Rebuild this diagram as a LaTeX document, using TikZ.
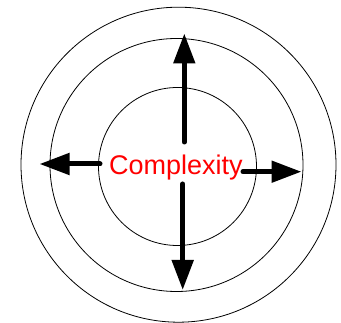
\documentclass[tikz,border=0pt]{standalone}
\usepackage{fontspec}
\setmainfont{Liberation Sans}
\usetikzlibrary{arrows.meta}
\begin{document}
\begin{tikzpicture}[x=1pt,y=-1pt,
  ring/.style={draw=black,line width=0.8pt},
  bigarrow/.style={line width=5pt,line cap=round,-{Triangle[length=30pt,width=21pt]}}]
\useasboundingbox (0,0) rectangle (341,323);
\draw[ring] (178.5,164.7) circle[radius=157.5];
\draw[ring] (176.5,165) circle[radius=126.5];
\draw[ring] (177.5,166.5) circle[radius=79];
\node[text=red,font=\fontsize{27}{30}\selectfont,inner sep=0pt,anchor=base] (lbl) at (175.8,175) {Complexity};
\coordinate (us) at (184.3,142);
\coordinate (ue) at (184.3,33.5);
\coordinate (ds) at (182.7,184);
\coordinate (de) at (182.7,290);
\coordinate (ls) at (100,164);
\coordinate (le) at (39.5,164);
\coordinate (rs) at (243,171.7);
\coordinate (re) at (301.5,171.7);
\draw[bigarrow] (us) -- (ue);
\draw[bigarrow] (ds) -- (de);
\draw[bigarrow] (ls) -- (le);
\draw[bigarrow] (rs) -- (re);
\end{tikzpicture}
\end{document}
